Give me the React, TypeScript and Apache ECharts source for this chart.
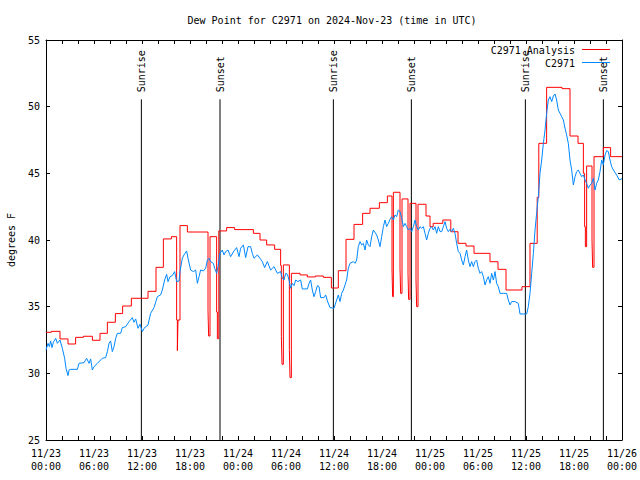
import React, { useEffect, useRef } from "react";
import * as echarts from "echarts";

const titleText = "Dew Point for C2971 on 2024-Nov-23 (time in UTC)";
const dayLabels = ["11/23", "11/24", "11/25", "11/26"];
const seriesNames = ["C2971 Analysis", "C2971"];
const sunHours = [11.92, 21.75, 35.92, 45.67, 59.92, 69.67];
const sunLabels = ["Sunrise", "Sunset", "Sunrise", "Sunset", "Sunrise", "Sunset"];

// analysis (step) values: [hour since 11/23 00:00 UTC, degF]
const analysis: [number, number][] = [
  [0, 33.08], [0.67, 33.15], [1.75, 32.58], [2.75, 32.2], [3.7, 32.7], [4.67, 32.78],
  [5.8, 32.48], [6.75, 33.0], [7.67, 33.83], [8.67, 34.48], [9.58, 35.05], [10.67, 35.63],
  [12.75, 36.15], [13.75, 37.95], [14.67, 40.08], [15.67, 40.25], [16.33, 34.0], [16.42, 31.7],
  [16.5, 34.0], [16.75, 41.08], [17.67, 40.6], [20.25, 34.7], [20.33, 32.8], [20.5, 40.25],
  [21.33, 34.6], [21.42, 32.6], [21.6, 40.68], [22.58, 40.93], [23.58, 40.78], [25.92, 40.5],
  [26.75, 40.0], [27.58, 39.63], [28.58, 39.3], [29.33, 38.08], [29.42, 32.75], [29.5, 30.68],
  [29.67, 38.13], [30.42, 31.78], [30.5, 29.68], [30.67, 37.5], [31.75, 37.38], [32.67, 37.23],
  [33.67, 37.3], [34.67, 37.2], [35.67, 36.4], [36.54, 37.7], [37.5, 40.05], [38.5, 41.17],
  [39.58, 42.0], [40.5, 42.38], [41.67, 42.8], [42.67, 43.3], [43.25, 37.75], [43.33, 35.75],
  [43.42, 43.58], [44.25, 37.9], [44.33, 36.0], [44.5, 43.08], [45.25, 37.5], [45.33, 35.55],
  [45.5, 42.75], [46.25, 37.0], [46.33, 35.0], [46.5, 42.68], [47.5, 41.8], [48.0, 41.0],
  [48.4, 41.25], [49.6, 41.5], [50.6, 40.62], [51.5, 39.75], [52.5, 39.55], [53.5, 39.0],
  [55.5, 38.37], [56.5, 37.8], [57.5, 36.25], [59.5, 36.5], [60.5, 39.75], [61.4, 43.2],
  [61.6, 47.25], [62.58, 51.45], [64.5, 51.35], [65.5, 47.8], [66.5, 47.25], [67.17, 45.0],
  [67.33, 41.0], [67.42, 39.5], [67.58, 45.55], [68.25, 40.0], [68.33, 37.95], [68.5, 46.25],
  [69.67, 46.93], [70.58, 46.25], [72, 46.25],
];

// observed values: [hour, degF]
const observed: [number, number][] = [
  [0, 31.75], [0.25, 32.25], [0.42, 32.0], [0.58, 32.43], [0.75, 31.93], [0.92, 32.33],
  [1.21, 32.63], [1.42, 32.25], [1.75, 32.5], [2.04, 31.88], [2.33, 31.13], [2.5, 30.38],
  [2.75, 29.83], [2.88, 30.25], [3.08, 30.3], [3.92, 30.3], [4.13, 30.75], [4.75, 30.8],
  [5.08, 31.13], [5.38, 30.75], [5.58, 31.08], [5.79, 30.25], [6.0, 30.5], [6.42, 30.75],
  [7.04, 31.13], [7.46, 31.18], [7.67, 31.63], [7.88, 32.25], [8.08, 32.43], [8.29, 31.63],
  [8.5, 32.0], [8.71, 32.63], [8.92, 33.0], [9.33, 33.0], [9.54, 33.43], [9.96, 33.5],
  [10.38, 33.88], [10.79, 34.18], [11.0, 33.83], [11.21, 34.08], [11.5, 33.38], [11.75, 33.68],
  [12.04, 33.13], [12.25, 33.38], [12.75, 33.63], [13.08, 34.5], [13.5, 34.93], [13.92, 35.75],
  [14.33, 35.88], [14.54, 36.25], [14.83, 37.0], [15.08, 37.43], [15.25, 36.88], [15.5, 37.25],
  [15.79, 37.33], [16.08, 37.63], [16.33, 36.88], [16.63, 36.93], [16.75, 37.63], [17.04, 38.63],
  [17.25, 38.88], [17.58, 39.18], [17.75, 38.63], [18.08, 37.75], [18.42, 37.63], [18.71, 37.75],
  [18.92, 36.75], [19.13, 37.25], [19.33, 37.75], [19.67, 37.68], [19.96, 37.88], [20.17, 38.5],
  [20.38, 38.63], [20.58, 38.38], [20.92, 38.25], [21.08, 37.88], [21.33, 37.5], [21.5, 38.0],
  [21.75, 39.0], [22.04, 39.25], [22.25, 38.88], [22.46, 39.13], [22.75, 39.25], [23.08, 38.75],
  [23.5, 39.18], [23.83, 39.43], [24.13, 38.75], [24.33, 39.38], [24.67, 39.63], [24.96, 38.68],
  [25.25, 39.5], [25.58, 39.5], [25.79, 39.0], [26.0, 38.63], [26.42, 38.88], [26.75, 38.63],
  [27.04, 38.38], [27.33, 37.93], [27.67, 38.38], [28.08, 37.75], [28.5, 38.0], [28.92, 37.5],
  [29.33, 37.63], [29.54, 37.13], [29.75, 37.0], [29.96, 37.5], [30.17, 37.43], [30.38, 37.0],
  [30.58, 36.38], [30.79, 36.75], [31.0, 36.58], [31.21, 37.0], [31.5, 36.88], [31.83, 37.0],
  [32.04, 36.33], [32.67, 36.33], [32.88, 36.75], [33.08, 37.0], [33.29, 36.25], [33.5, 35.75],
  [33.71, 36.13], [33.92, 36.58], [34.13, 36.5], [34.33, 35.68], [34.75, 35.68], [34.96, 35.88],
  [35.17, 35.43], [35.5, 34.93], [36.0, 34.88], [36.33, 35.5], [36.54, 35.88], [36.75, 35.38],
  [36.96, 36.0], [37.17, 36.25], [37.38, 36.63], [37.58, 37.0], [37.79, 37.88], [38.0, 38.25],
  [38.42, 38.38], [38.63, 38.25], [38.83, 38.5], [39.04, 39.5], [39.25, 39.88], [39.46, 39.63],
  [39.67, 39.75], [39.88, 39.25], [40.08, 40.0], [40.29, 39.63], [40.5, 39.5], [40.71, 40.25],
  [40.92, 40.75], [41.33, 40.38], [41.54, 40.0], [41.75, 39.5], [41.96, 40.25], [42.17, 41.0],
  [42.38, 41.5], [42.58, 41.0], [42.79, 41.25], [43.0, 41.55], [43.21, 41.75], [43.42, 41.5],
  [43.63, 41.88], [43.83, 41.75], [44.04, 42.25], [44.25, 42.13], [44.46, 41.63], [44.67, 41.0],
  [44.88, 41.25], [45.08, 41.0], [45.29, 40.75], [45.5, 40.88], [45.71, 40.63], [45.92, 41.0],
  [46.13, 41.5], [46.33, 41.0], [46.54, 40.75], [46.75, 41.0], [46.96, 40.88], [47.17, 41.0],
  [47.38, 40.5], [47.58, 40.0], [47.79, 40.5], [48.0, 40.88], [48.21, 41.0], [48.42, 40.75],
  [48.63, 41.0], [48.83, 40.5], [49.04, 41.0], [49.25, 40.63], [49.46, 40.63], [49.67, 41.0],
  [49.88, 41.38], [50.08, 40.88], [50.29, 40.63], [50.5, 40.8], [50.71, 40.63], [50.92, 40.88],
  [51.13, 40.5], [51.33, 39.75], [51.54, 39.13], [51.75, 39.0], [51.96, 38.5], [52.17, 38.13],
  [52.38, 38.75], [52.58, 39.25], [52.79, 38.5], [53.0, 38.0], [53.21, 38.38], [53.42, 38.0],
  [53.63, 38.38], [53.83, 38.5], [54.04, 37.88], [54.25, 37.5], [54.46, 37.63], [54.67, 37.25],
  [54.88, 36.63], [55.08, 37.0], [55.29, 37.25], [55.5, 36.75], [55.71, 37.5], [55.92, 37.0],
  [56.13, 37.63], [56.33, 36.75], [56.54, 36.5], [56.75, 36.0], [57.17, 36.0], [57.58, 36.0],
  [57.79, 35.5], [58.0, 35.13], [58.21, 35.38], [58.63, 35.38], [59.04, 35.25], [59.25, 34.45],
  [60.08, 34.45], [60.29, 35.0], [60.5, 36.0], [60.71, 37.5], [60.92, 39.0], [61.13, 40.75],
  [61.33, 42.0], [61.54, 43.25], [61.75, 45.0], [61.96, 46.0], [62.17, 47.25], [62.38, 48.25],
  [62.58, 49.5], [62.79, 50.5], [63.0, 50.75], [63.21, 50.38], [63.42, 50.8], [63.63, 50.95],
  [63.83, 50.5], [64.04, 49.75], [64.25, 49.5], [64.46, 49.25], [64.67, 49.0], [64.88, 48.38],
  [65.08, 47.88], [65.29, 47.25], [65.5, 46.0], [65.71, 45.25], [65.92, 44.13], [66.13, 44.75],
  [66.33, 45.13], [66.54, 45.25], [66.75, 45.0], [66.96, 44.75], [67.17, 44.88], [67.38, 44.5],
  [67.58, 44.25], [67.79, 43.88], [68.0, 44.13], [68.21, 44.25], [68.42, 44.63], [68.63, 43.75],
  [68.83, 44.25], [69.04, 44.5], [69.25, 45.13], [69.46, 46.0], [69.67, 45.63], [69.88, 46.38],
  [70.08, 46.7], [70.29, 46.63], [70.5, 46.0], [70.71, 45.5], [70.92, 45.25], [71.33, 44.88],
  [71.67, 44.5], [72, 44.6],
];

const FONT = '"DejaVu Sans Mono", monospace';
const RED = "#ff0000";
const BLUE = "#0088ff";

function pad2(n: number) {
  return n < 10 ? "0" + n : String(n);
}

export default function App() {
  const ref = useRef<HTMLDivElement>(null);
  useEffect(() => {
    document.body.style.margin = "0";
    if (!ref.current) return;
    const chart = echarts.init(ref.current, undefined, { renderer: "svg" });
    const axisCommon = {
      type: "value" as const,
      axisLine: { show: true, onZero: false, lineStyle: { color: "#000", width: 1 } },
      axisTick: { show: true, inside: true, length: 4, lineStyle: { color: "#000" } },
      splitLine: { show: false },
    };
    const option: any = {
      animation: false,
      textStyle: { fontFamily: FONT },
      grid: { left: 46, right: 18, top: 40, bottom: 40, containLabel: false, outerBoundsMode: "none" },
      xAxis: [
        {
          ...axisCommon,
          position: "bottom",
          min: 0,
          max: 72,
          interval: 2,
          axisLabel: {
            show: true,
            showMinLabel: true,
            showMaxLabel: true,
            hideOverlap: false,
            color: "#000",
            fontSize: 10,
            fontFamily: FONT,
            lineHeight: 13,
            margin: 7,
            formatter: (v: number) => {
              const h = Math.round(v);
              if (h % 6 !== 0) return "";
              const d = Math.floor(h / 24);
              return dayLabels[d] + "\n" + pad2(h % 24) + ":00";
            },
          },
        },
        { ...axisCommon, position: "top", min: 0, max: 72, interval: 2, axisLabel: { show: false } },
      ],
      yAxis: [
        {
          ...axisCommon,
          position: "left",
          min: 25,
          max: 55,
          interval: 5,
          name: "degrees F",
          nameLocation: "middle",
          nameGap: 30,
          nameTextStyle: { color: "#000", fontSize: 10, fontFamily: FONT },
          axisLabel: { color: "#000", fontSize: 10, fontFamily: FONT, margin: 6 },
        },
        { ...axisCommon, position: "right", min: 25, max: 55, interval: 5, axisLabel: { show: false } },
      ],
      graphic: [
        {
          type: "text",
          x: 332,
          y: 20,
          style: { text: titleText, fill: "#000", font: `10px ${FONT}`, align: "center", verticalAlign: "middle" },
        },
        {
          type: "text",
          x: 575,
          y: 50,
          style: { text: seriesNames[0], fill: "#000", font: `10px ${FONT}`, align: "right", verticalAlign: "middle" },
        },
        { type: "line", shape: { x1: 582, y1: 49.5, x2: 610, y2: 49.5 }, style: { stroke: RED, lineWidth: 1 } },
        {
          type: "text",
          x: 575,
          y: 63,
          style: { text: seriesNames[1], fill: "#000", font: `10px ${FONT}`, align: "right", verticalAlign: "middle" },
        },
        { type: "line", shape: { x1: 582, y1: 62.5, x2: 610, y2: 62.5 }, style: { stroke: BLUE, lineWidth: 1 } },
      ],
      series: [
        {
          type: "custom",
          name: "sun",
          data: sunHours.map((h) => [h]),
          renderItem: (params: any, api: any) => {
            const h = api.value(0);
            const top = api.coord([h, 50.55]);
            const bottom = api.coord([h, 25]);
            return {
              type: "group",
              children: [
                {
                  type: "line",
                  shape: { x1: top[0], y1: top[1], x2: bottom[0], y2: bottom[1] },
                  style: { stroke: "#000", lineWidth: 1 },
                },
                {
                  type: "text",
                  x: top[0],
                  y: top[1] - 7,
                  rotation: Math.PI / 2,
                  style: {
                    text: sunLabels[params.dataIndex],
                    fill: "#000",
                    font: `10px ${FONT}`,
                    align: "left",
                    verticalAlign: "middle",
                  },
                },
              ],
            };
          },
          z: 1,
        },
        {
          type: "line",
          name: seriesNames[0],
          data: analysis,
          step: "end",
          showSymbol: false,
          lineStyle: { color: RED, width: 1 },
          itemStyle: { color: RED },
          z: 2,
        },
        {
          type: "line",
          name: seriesNames[1],
          data: observed,
          showSymbol: false,
          lineStyle: { color: BLUE, width: 1 },
          itemStyle: { color: BLUE },
          z: 3,
        },
      ],
    };
    chart.setOption(option);
    return () => chart.dispose();
  }, []);
  return <div ref={ref} style={{ width: 640, height: 480 }} />;
}
